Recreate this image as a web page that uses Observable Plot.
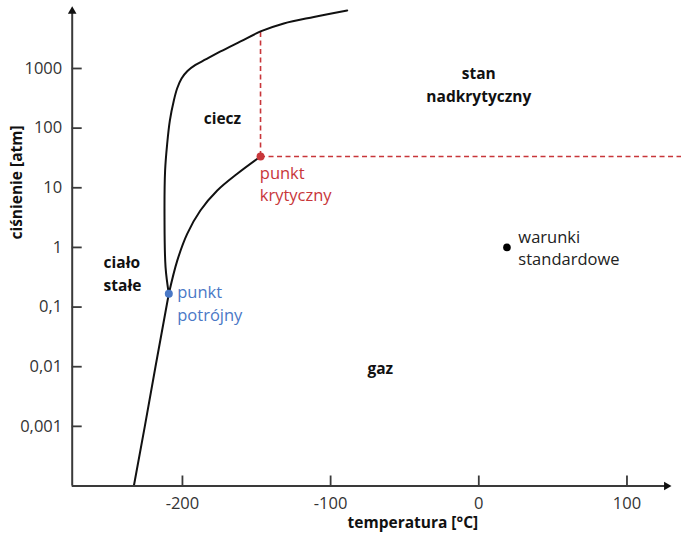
<!DOCTYPE html>
<html>
<head>
<meta charset="utf-8">
<script src="https://cdn.jsdelivr.net/npm/d3@7"></script>
<script src="https://cdn.jsdelivr.net/npm/@observablehq/plot@0.6"></script>
<style>
  html, body { margin: 0; padding: 0; background: #fff; }
  #chart svg { display: block; }
</style>
</head>
<body>
<div id="chart"></div>
<script>
// ---- data (temperature °C, pressure atm) ----
const xTicks = [-200, -100, 0, 100];
const yTicks = [0.001, 0.01, 0.1, 1, 10, 100, 1000];
const xDomain = [-274.4, 136.8];
const yDomain = [0.0001, 13800];
const xAxisEnd = 126.7;
const yAxisEnd = 9100;

const sublimationT = [-232.8, -225.4, -218.2, -209.2];
const sublimationP = [0.0001, 0.001, 0.01, 0.167];

const meltingT = [-209.2, -211.4, -212.1, -211.7, -210.3, -208.5, -205.8, -203.6, -200.6, -196.6, -191.2, -184.4, -174.3, -160.8, -147.3, -131.6, -111.3, -88.8];
const meltingP = [0.167, 0.467, 3.2, 19.5, 54.7, 134, 291, 462, 681, 908, 1146, 1416, 1928, 2838, 4178, 5689, 7311, 9397];

const vaporT = [-209.2, -203.5, -196.8, -187.9, -176.5, -163.0, -147.3];
const vaporP = [0.167, 0.60, 1.69, 4.16, 9.0, 17.2, 33.5];

const triplePoint = {T: -209.2, P: 0.167};
const criticalPoint = {T: -147.3, P: 33.5};
const criticalTopP = 4178;
const standardPoint = {T: 19, P: 1};

const regionText = ["ciecz", "stan\nnadkrytyczny", "gaz"];
const regionT = [-173.0, 0, -66.5];
const regionP = [153, 560, 0.0101];

const solidText = "ciało\nstałe";
const solidLabelAt = {T: -253.2, P: 0.385};
const criticalText = "punkt\nkrytyczny";
const criticalLabelAt = {T: -147.8, P: 12.0};
const tripleText = "punkt\npotrójny";
const tripleLabelAt = {T: -203.5, P: 0.119};
const standardText = "warunki\nstandardowe";
const standardLabelAt = {T: 26.7, P: 1.017};

const xTitle = "temperatura [°C]";
const yTitle = "ciśnienie [atm]";

// ---- build tables ----
const zip = (T, P) => T.map((t, i) => ({T: t, P: P[i]}));
const sublimation = zip(sublimationT, sublimationP);
const melting = zip(meltingT, meltingP);
const vapor = zip(vaporT, vaporP);
const regions = regionText.map((s, i) => ({s, T: regionT[i], P: regionP[i]}));

const axisColor = "#3a3a3a";
const red = "#c8363a";
const blue = "#4a78c6";
const fmtY = d => String(d).replace(".", ",");

const chart = Plot.plot({
  width: 681,
  height: 539,
  marginLeft: 71.7,
  marginRight: 0,
  marginTop: 0,
  marginBottom: 53.5,
  style: {fontFamily: "'Open Sans', sans-serif", fontSize: "16.5px", color: "#222", background: "#fff"},
  x: {domain: xDomain, axis: null},
  y: {type: "log", domain: yDomain, axis: null},
  marks: [
    // dashed critical lines
    Plot.ruleX([criticalPoint], {x: "T", y1: "P", y2: () => criticalTopP, stroke: red, strokeWidth: 1.6, strokeDasharray: "5,3.5"}),
    Plot.ruleY([criticalPoint], {y: "P", x1: "T", x2: () => xDomain[1], stroke: red, strokeWidth: 1.6, strokeDasharray: "5,3.5"}),
    // phase boundaries
    Plot.line(sublimation, {x: "T", y: "P", stroke: "#111", strokeWidth: 2}),
    Plot.line(melting, {x: "T", y: "P", stroke: "#111", strokeWidth: 2, curve: "catmull-rom"}),
    Plot.line(vapor, {x: "T", y: "P", stroke: "#111", strokeWidth: 2, curve: "catmull-rom"}),
    // axes lines and arrowheads
    Plot.ruleY([yDomain[0]], {x1: xDomain[0], x2: xAxisEnd, stroke: axisColor, strokeWidth: 2}),
    Plot.ruleX([xDomain[0]], {y1: yDomain[0], y2: yAxisEnd, stroke: axisColor, strokeWidth: 2}),
    Plot.dot([{T: xAxisEnd, P: yDomain[0]}], {x: "T", y: "P", symbol: "triangle", rotate: 90, r: 3.2, fill: "#111", stroke: null}),
    Plot.dot([{T: xDomain[0], P: yAxisEnd}], {x: "T", y: "P", symbol: "triangle", rotate: 0, r: 3.2, fill: "#111", stroke: null}),
    // ticks pointing inward
    Plot.axisX(xTicks, {tickSize: -10, fill: "none", stroke: axisColor, strokeWidth: 1.8, label: null}),
    Plot.axisX(xTicks, {tickSize: 0, tickPadding: 11, fill: "#333", label: null, tickFormat: d => String(d)}),
    Plot.axisY(yTicks, {tickSize: -10, fill: "none", stroke: axisColor, strokeWidth: 1.8, label: null}),
    Plot.axisY(yTicks, {tickSize: 0, tickPadding: 10, fill: "#333", label: null, tickFormat: fmtY}),
    // points
    Plot.dot([criticalPoint], {x: "T", y: "P", r: 4, fill: red}),
    Plot.dot([triplePoint], {x: "T", y: "P", r: 4, fill: blue}),
    Plot.dot([standardPoint], {x: "T", y: "P", r: 3.8, fill: "#000"}),
    // region labels (bold)
    Plot.text(regions, {x: "T", y: "P", text: "s", fontWeight: "bold", fontSize: 15.5, lineHeight: 1.45, textAnchor: "middle", fill: "#111"}),
    Plot.text([solidLabelAt], {x: "T", y: "P", text: () => solidText, fontWeight: "bold", fontSize: 15.5, lineHeight: 1.45, textAnchor: "start", fill: "#111"}),
    Plot.text([criticalLabelAt], {x: "T", y: "P", text: () => criticalText, textAnchor: "start", fill: red, lineHeight: 1.31}),
    Plot.text([tripleLabelAt], {x: "T", y: "P", text: () => tripleText, textAnchor: "start", fill: blue, lineHeight: 1.37}),
    Plot.text([standardLabelAt], {x: "T", y: "P", text: () => standardText, textAnchor: "start", fill: "#222", lineHeight: 1.35}),
    // axis titles
    Plot.text([xTitle], {frameAnchor: "bottom", dx: 36, dy: 41.5, fontWeight: "bold", fontSize: 15.5, fill: "#111"}),
    Plot.text([yTitle], {frameAnchor: "left", rotate: -90, dx: -54.7, dy: -3.7, fontWeight: "bold", fontSize: 15.5, fill: "#111"})
  ]
});
document.getElementById("chart").appendChild(chart);
</script>
</body>
</html>
